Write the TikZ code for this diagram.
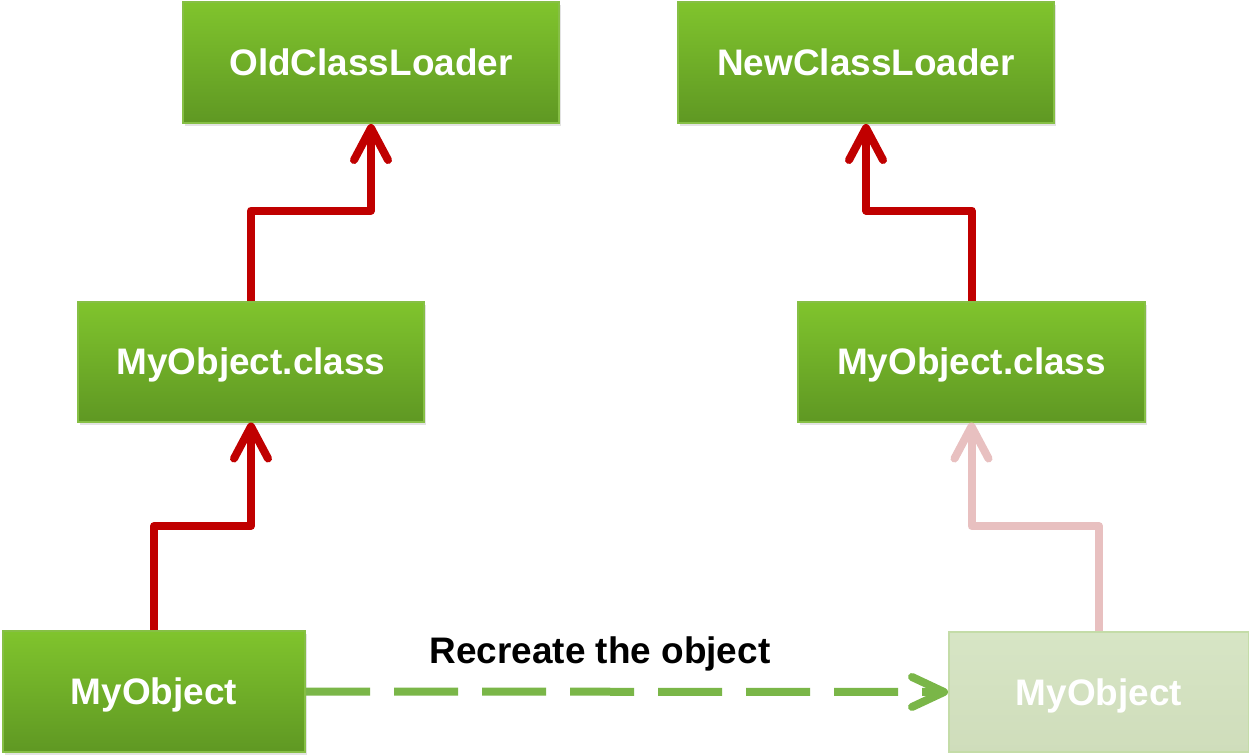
\documentclass[tikz,border=0pt]{standalone}
\usepackage{fontspec}
\setmainfont{Liberation Sans}
\usetikzlibrary{arrows.meta,shadows}
\definecolor{boxtop}{HTML}{80C42D}
\definecolor{boxbot}{HTML}{5F9823}
\definecolor{boxedge}{HTML}{86BF45}
\definecolor{fadetop}{HTML}{D7E5C5}
\definecolor{fadebot}{HTML}{CFDDBB}
\definecolor{fadeedge}{HTML}{C4DCA8}
\definecolor{arrred}{HTML}{C00000}
\definecolor{fadered}{HTML}{E8C0C0}
\definecolor{dashgreen}{HTML}{7AB648}
\tikzset{
  txt/.style={font=\bfseries\fontsize{27.7}{33}\selectfont, text height=19.8pt, text depth=0pt},
  gbox/.style={txt, rectangle, inner sep=0pt, text=white, draw=boxedge, line width=1.5pt,
    top color=boxtop, bottom color=boxbot,
    drop shadow={opacity=0.22, shadow xshift=1.2pt, shadow yshift=-2.5pt}},
  fbox/.style={txt, rectangle, inner sep=0pt, text=white, draw=fadeedge, line width=1.5pt,
    top color=fadetop, bottom color=fadebot},
  redarrow/.style={draw=arrred, line width=6pt, line join=round,
    -{Straight Barb[length=24pt, width=25.5pt, round]}},
  fadearrow/.style={redarrow, draw=fadered},
  dasharrow/.style={draw=dashgreen, line width=6pt, dash pattern=on 48pt off 18pt,
    -{Straight Barb[length=24pt, width=22.5pt, round]}},
}
\begin{document}
\begin{tikzpicture}[x=0.75pt, y=-0.75pt]
\useasboundingbox (0,0) rectangle (1249,754);
\fill[white] (0,0) rectangle (1249,754);
% boxes
\node[gbox, minimum width=282pt, minimum height=90.75pt] (old) at (371,62.5) {OldClassLoader};
\node[gbox, minimum width=282pt, minimum height=90.75pt] (new) at (866,62.5) {NewClassLoader};
\node[gbox, minimum width=259.5pt, minimum height=90pt] (cl) at (251,361.5) {MyObject.class};
\node[gbox, minimum width=260.25pt, minimum height=90pt] (cr) at (971.5,361.5) {MyObject.class};
\node[gbox, minimum width=226.5pt, minimum height=90.75pt] (ol) at (154,691.5) {MyObject};
\node[fbox, minimum width=225pt, minimum height=90pt] (or) at (1099,692) {MyObject};
% connectors
\draw[redarrow] (ol.north) -- ++(0,-104) -| (cl.south);
\draw[redarrow] (cl.north) -- ++(0,-90) -| (old.south);
\draw[redarrow] (cr.north) -- ++(0,-90) -| (new.south);
\draw[fadearrow] (or.north) -- ++(0,-105) -| (cr.south);
\draw[dasharrow] (ol.east) -- (or.west);
\node[txt, text=black] (lbl) at (600,650) {Recreate the object};
\end{tikzpicture}
\end{document}
